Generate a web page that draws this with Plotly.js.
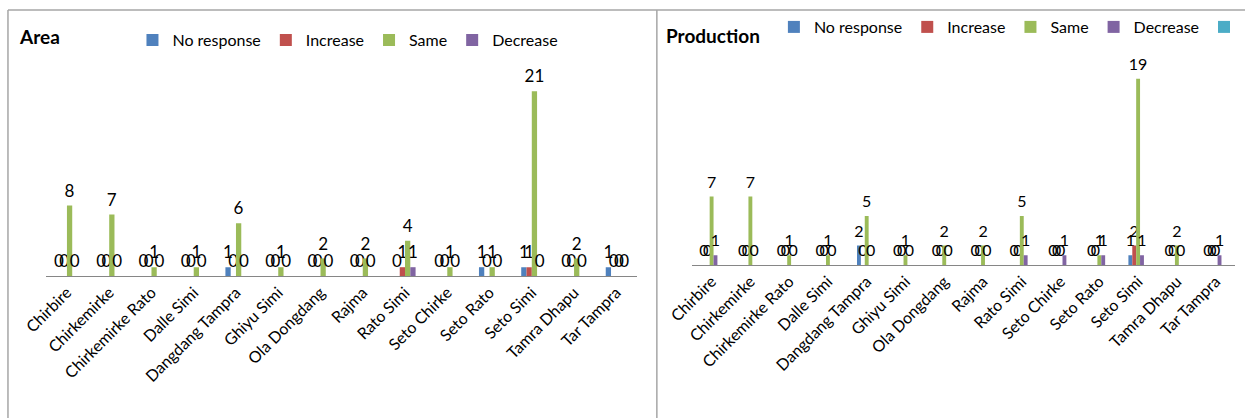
<!DOCTYPE html>
<html>
<head>
<meta charset="utf-8">
<script src="https://cdn.plot.ly/plotly-3.0.1.min.js"></script>
<style>
html,body{margin:0;padding:0;background:#fff;}
#chart{width:1250px;height:418px;}
</style>
</head>
<body>
<div id="chart"></div>
<script>
const categories = ["Chirbire","Chirkemirke","Chirkemirke Rato","Dalle Simi","Dangdang Tampra","Ghiyu Simi","Ola Dongdang","Rajma","Rato Simi","Seto Chirke","Seto Rato","Seto Simi","Tamra Dhapu","Tar Tampra"];
const seriesNames = ["No response","Increase","Same","Decrease"];
const seriesColors = ["#4F81BD","#C0504D","#9BBB59","#8064A2","#4BACC6"];

const areaNoResponse = [0,0,0,0,1,0,0,0,0,0,1,1,0,1];
const areaIncrease   = [0,0,0,0,0,0,0,0,1,0,0,1,0,0];
const areaSame       = [8,7,1,1,6,1,2,2,4,1,1,21,2,0];
const areaDecrease   = [0,0,0,0,0,0,0,0,1,0,0,0,0,0];

const prodNoResponse = [0,0,0,0,2,0,0,0,0,0,0,1,0,0];
const prodIncrease   = [0,0,0,0,0,0,0,0,0,0,0,2,0,0];
const prodSame       = [7,7,1,1,5,1,2,2,5,0,1,19,2,0];
const prodDecrease   = [1,0,0,0,0,0,0,0,1,1,1,1,0,1];
const prodExtra      = [null,null,null,null,null,null,null,null,null,null,null,null,null,null];

const FONT = "Lato, 'Open Sans', sans-serif";

function barTrace(y, name, color, xa, ya, legend, size, showText){
  return {
    type: "bar", x: categories, y: y, name: name,
    marker: {color: color},
    xaxis: xa, yaxis: ya, legend: legend,
    text: showText ? y.map(v => v === null ? "" : "<span style='font-size:" + size + "px'>" + v + "</span><br>&nbsp;") : undefined,
    textposition: "outside",
    constraintext: "none",
    cliponaxis: false,
    textfont: {family: FONT, size: 6, color: "#000"},
    hoverinfo: "x+y+name"
  };
}

const areaData = [areaNoResponse, areaIncrease, areaSame, areaDecrease];
const prodData = [prodNoResponse, prodIncrease, prodSame, prodDecrease, prodExtra];
const prodNames = seriesNames.concat([""]);

const traces = [];
areaData.forEach((d,i) => traces.push(barTrace(d, seriesNames[i], seriesColors[i], "x", "y", "legend", 17, true)));
prodData.forEach((d,i) => traces.push(barTrace(d, prodNames[i], seriesColors[i], "x2", "y2", "legend2", 16, i < 4)));

const W = 1250, H = 418;
const px = v => v / W, py = v => 1 - v / H;

const axisX = {
  showgrid: false, zeroline: false, showline: true, linecolor: "#868686", linewidth: 1,
  ticks: "", tickangle: -45, tickfont: {family: FONT, size: 16, color: "#000"},
  fixedrange: true
};
const axisY = {showgrid: false, zeroline: false, showline: false, showticklabels: false, ticks: "", fixedrange: true};

const layout = {
  width: W, height: H,
  margin: {l: 0, r: 0, t: 0, b: 0},
  paper_bgcolor: "#fff", plot_bgcolor: "rgba(0,0,0,0)",
  barmode: "group",
  bargap: 0.5,
  font: {family: FONT, color: "#000"},
  xaxis: Object.assign({}, axisX, {domain: [px(46), px(640)], anchor: "y"}),
  yaxis: Object.assign({}, axisY, {domain: [py(276), py(56)], range: [0, 25], anchor: "x"}),
  xaxis2: Object.assign({}, axisX, {domain: [px(695), px(1240)], anchor: "y2"}),
  yaxis2: Object.assign({}, axisY, {domain: [py(265), py(69)], range: [0, 20], anchor: "x2"}),
  legend: {
    orientation: "h", x: px(133), y: py(40), xanchor: "left", yanchor: "middle",
    font: {family: FONT, size: 16, color: "#000"}, bgcolor: "rgba(0,0,0,0)",
    itemwidth: 30, tracegroupgap: 0
  },
  legend2: {
    orientation: "h", x: px(777), y: py(27), xanchor: "left", yanchor: "middle",
    font: {family: FONT, size: 16, color: "#000"}, bgcolor: "rgba(0,0,0,0)",
    itemwidth: 30, tracegroupgap: 0
  },
  annotations: [
    {text: "<b>Area</b>", xref: "paper", yref: "paper", x: px(17), y: py(37), xanchor: "left", yanchor: "middle", showarrow: false, font: {family: FONT, size: 19, color: "#000"}},
    {text: "<b>Production</b>", xref: "paper", yref: "paper", x: px(667), y: py(35), xanchor: "left", yanchor: "middle", showarrow: false, font: {family: FONT, size: 19, color: "#000"}}
  ],
  shapes: [
    {type: "line", xref: "paper", yref: "paper", x0: px(8), x1: 1, y0: py(10), y1: py(10), line: {color: "#a6a6a6", width: 1.5}},
    {type: "line", xref: "paper", yref: "paper", x0: px(8), x1: px(8), y0: py(10), y1: 0, line: {color: "#a6a6a6", width: 1.5}},
    {type: "line", xref: "paper", yref: "paper", x0: px(659.5), x1: px(659.5), y0: py(10), y1: 0, line: {color: "#a6a6a6", width: 1.5}}
  ],
  showlegend: true
};

Plotly.newPlot("chart", traces, layout, {displayModeBar: false, staticPlot: true});
</script>
</body>
</html>
